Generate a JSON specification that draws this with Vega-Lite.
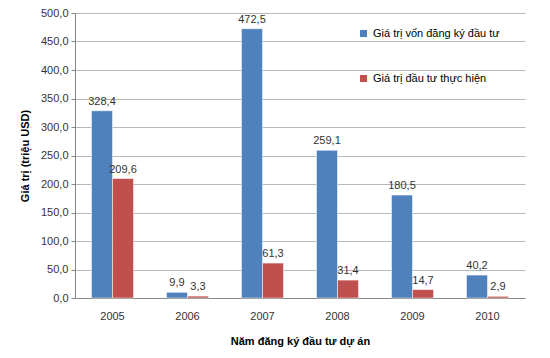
{
  "$schema": "https://vega.github.io/schema/vega-lite/v6.json",
  "autosize": "none",
  "width": 450,
  "height": 285,
  "padding": {"left": 75, "top": 13, "right": 25, "bottom": 60},
  "background": "white",
  "config": {
    "locale": {"number": {"decimal": ",", "thousands": ".", "grouping": [3], "currency": ["", ""]}},
    "font": "Liberation Sans",
    "view": {"stroke": null}
  },
  "data": {
    "values": [
      {"year": "2005", "series": "Giá trị vốn đăng ký đầu tư", "value": 328.4},
      {"year": "2005", "series": "Giá trị đầu tư thực hiện", "value": 209.6},
      {"year": "2006", "series": "Giá trị vốn đăng ký đầu tư", "value": 9.9},
      {"year": "2006", "series": "Giá trị đầu tư thực hiện", "value": 3.3},
      {"year": "2007", "series": "Giá trị vốn đăng ký đầu tư", "value": 472.5},
      {"year": "2007", "series": "Giá trị đầu tư thực hiện", "value": 61.3},
      {"year": "2008", "series": "Giá trị vốn đăng ký đầu tư", "value": 259.1},
      {"year": "2008", "series": "Giá trị đầu tư thực hiện", "value": 31.4},
      {"year": "2009", "series": "Giá trị vốn đăng ký đầu tư", "value": 180.5},
      {"year": "2009", "series": "Giá trị đầu tư thực hiện", "value": 14.7},
      {"year": "2010", "series": "Giá trị vốn đăng ký đầu tư", "value": 40.2},
      {"year": "2010", "series": "Giá trị đầu tư thực hiện", "value": 2.9}
    ]
  },
  "encoding": {
    "x": {
      "field": "year", "type": "nominal",
      "scale": {"paddingInner": 0.44, "paddingOuter": 0.22},
      "axis": {
        "title": "Năm đăng ký đầu tư dự án", "titleFontSize": 11, "titleFontWeight": "bold", "titleColor": "#000",
        "titlePadding": 14, "labelAngle": 0, "labelFontSize": 11, "labelColor": "#333", "labelPadding": 12,
        "ticks": false, "domainColor": "#868686"
      }
    },
    "xOffset": {"field": "series", "sort": ["Giá trị vốn đăng ký đầu tư", "Giá trị đầu tư thực hiện"]},
    "y": {
      "field": "value", "type": "quantitative",
      "scale": {"domain": [0, 500]},
      "axis": {
        "title": "Giá trị (triệu USD)", "titleFontSize": 11, "titleFontWeight": "bold", "titleColor": "#000",
        "format": ".1f", "values": [0, 50, 100, 150, 200, 250, 300, 350, 400, 450, 500], "labelOverlap": false,
        "labelFontSize": 11, "labelColor": "#333", "labelPadding": 3, "tickSize": 4, "tickColor": "#868686",
        "domainColor": "#868686", "gridColor": "#b8b8b8", "titlePadding": 10
      }
    }
  },
  "layer": [
    {
      "mark": {"type": "bar", "stroke": "white", "strokeWidth": 0.5},
      "encoding": {
        "color": {
          "field": "series", "type": "nominal",
          "scale": {"domain": ["Giá trị vốn đăng ký đầu tư", "Giá trị đầu tư thực hiện"], "range": ["#4F81BD", "#C0504D"]},
          "legend": {
            "title": null, "orient": "none", "legendX": 283, "legendY": 15,
            "symbolType": "square", "symbolSize": 50, "symbolStrokeWidth": 0,
            "labelFontSize": 11, "labelColor": "#000", "rowPadding": 33
          }
        }
      }
    },
    {
      "mark": {"type": "text", "dy": -9, "fontSize": 11, "color": "#333"},
      "encoding": {
        "text": {"field": "value", "type": "quantitative", "format": ".1f"}
      }
    }
  ]
}
